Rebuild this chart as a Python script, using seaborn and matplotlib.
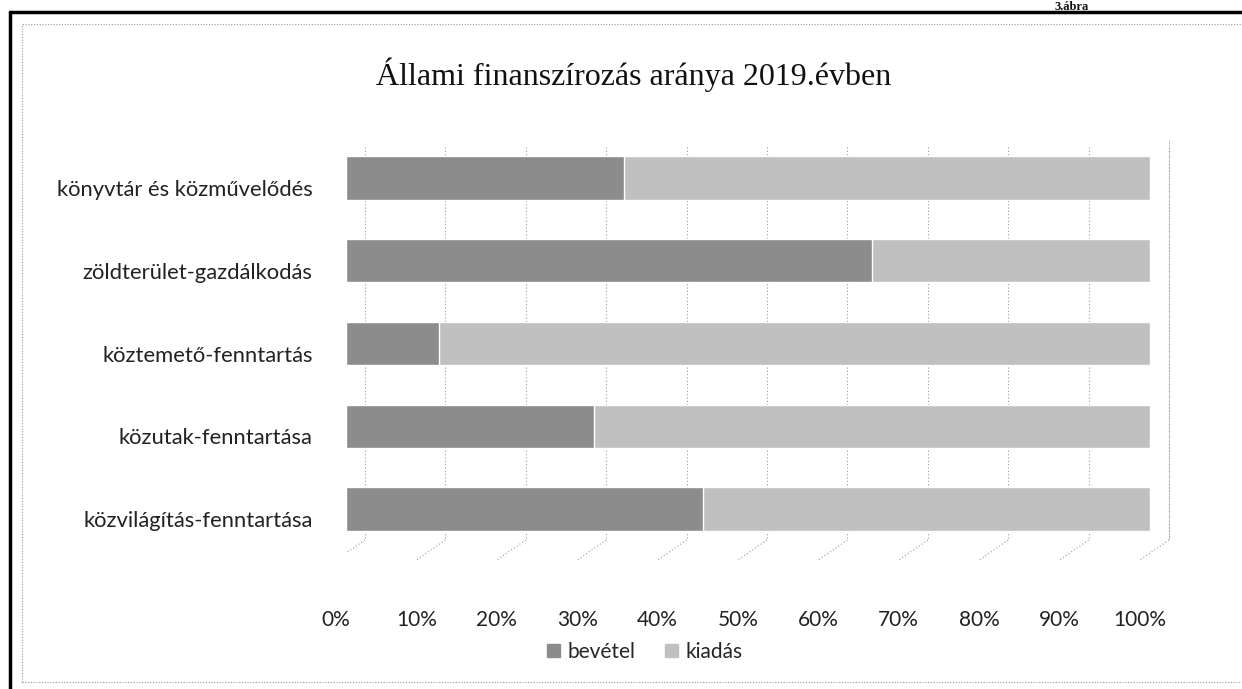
import matplotlib
matplotlib.use("Agg")
import matplotlib.pyplot as plt
import matplotlib.transforms as mtransforms
from matplotlib.patches import Rectangle
from matplotlib.lines import Line2D
import seaborn as sns
import pandas as pd

# ---- data ----
categories = ["könyvtár és közművelődés", "zöldterület-gazdálkodás",
              "köztemető-fenntartás", "közutak-fenntartása", "közvilágítás-fenntartása"]
bevetel = [34.6, 65.4, 11.6, 30.8, 44.4]
kiadas = [65.4, 34.6, 88.4, 69.2, 55.6]
series_names = ["bevétel", "kiadás"]
tick_values = [0, 10, 20, 30, 40, 50, 60, 70, 80, 90, 100]
tick_labels = [f"{v}%" for v in tick_values]
title = "Állami finanszírozás aránya 2019.évben"
corner_note = "3.ábra"

col_bev = "#8c8c8c"
col_kia = "#c0c0c0"

sns.set_theme(style="white")
plt.rcParams["font.family"] = ["Lato", "DejaVu Sans"]

W, H = 1242, 689
fig = plt.figure(figsize=(W / 100, H / 100), dpi=100)

# pixel geometry of plot area
x0_px, px_per_unit = 346, 8.04
top_px, bot_px = 140, 570
c0_px, step_px = 178, 82.75
xmax = 106
ax = fig.add_axes([x0_px / W, 1 - bot_px / H, xmax * px_per_unit / W, (bot_px - top_px) / H])

df = pd.DataFrame({"cat": categories, "bev": bevetel, "kia": kiadas})
df["total"] = df["bev"] + df["kia"]

def py(p):
    return (p - c0_px) / step_px

def px(p):
    return (p - x0_px) / px_per_unit

# gridlines (3D back wall + floor)
dx_back = 19 / px_per_unit
for v in tick_values:
    ax.plot([v + dx_back, v + dx_back], [py(147), py(540)], ls=(0, (1, 2)),
            color="#9a9a9a", lw=0.8, zorder=0)
    ax.plot([v + dx_back, v + px(336)], [py(540), py(560)], ls=(0, (1, 2)),
            color="#9a9a9a", lw=0.8, zorder=0)
ax.plot([100 + dx_back] * 2, [py(140), py(540)], ls=(0, (1, 1)), color="#aaaaaa", lw=0.8, zorder=0)

sns.barplot(data=df, x="total", y="cat", color=col_kia, orient="h", width=0.52,
            ax=ax, saturation=1, zorder=2)
sns.barplot(data=df, x="bev", y="cat", color=col_bev, orient="h", width=0.52,
            ax=ax, saturation=1, zorder=3)

ax.set_xlim(0, xmax)
ax.set_ylim(py(bot_px), py(top_px))
ax.set_xlabel("")
ax.set_ylabel("")
ax.set_xticks(tick_values)
ax.set_xticklabels(tick_labels, fontsize=15, color="#222222")
ax.tick_params(axis="x", length=0, pad=29)
ax.tick_params(axis="y", length=0, pad=24)
for lab in ax.get_yticklabels():
    lab.set_fontsize(15.8)
    lab.set_color("#222222")
    lab.set_transform(lab.get_transform() + mtransforms.ScaledTranslation(0, -0.10, fig.dpi_scale_trans))
for lab in ax.get_xticklabels():
    lab.set_transform(lab.get_transform() + mtransforms.ScaledTranslation(-0.10, 0, fig.dpi_scale_trans))
for s in ax.spines.values():
    s.set_visible(False)
ax.grid(False)
ax.set_facecolor("none")

# title
fig.text(634 / W, 1 - 75 / H, title, ha="center", va="center",
         fontsize=23, family="Liberation Serif", color="#111111")
fig.text(1072 / W, 1 - 1 / H, corner_note, ha="center", va="top",
         fontsize=9, family="Liberation Serif", weight="bold", color="#111111")

# legend
handles = [Rectangle((0, 0), 1, 1, color=col_bev), Rectangle((0, 0), 1, 1, color=col_kia)]
fig.legend(handles, series_names, loc="center", bbox_to_anchor=(645 / W, 1 - 652 / H),
           ncol=2, frameon=False, fontsize=15, handlelength=0.6, handleheight=0.6,
           handletextpad=0.4, columnspacing=1.4)

# borders
fig.add_artist(Line2D([10 / W, 10 / W], [0, 1 - 12 / H], color="black", lw=2.5, transform=fig.transFigure))
fig.add_artist(Line2D([10 / W, 1], [1 - 12 / H, 1 - 12 / H], color="black", lw=2.5, transform=fig.transFigure))
fig.add_artist(Rectangle((22 / W, 1 - 682 / H), (W - 18) / W, (682 - 24) / H, fill=False,
                         ls=(0, (1, 1.5)), ec="#999999", lw=0.8, transform=fig.transFigure))

fig.savefig("out.png", dpi=100)
